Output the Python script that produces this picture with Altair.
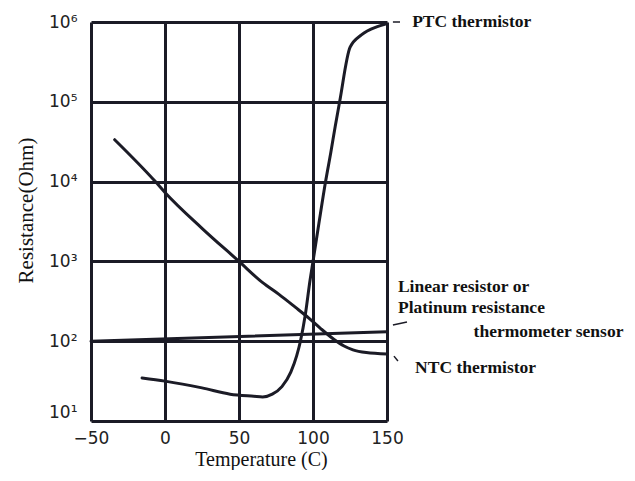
import altair as alt
import pandas as pd

# ---- data ----
ptc_t = [-15.5, 0, 25, 44, 60, 66, 72.5, 79, 85, 89, 91.5, 94.8, 98, 100, 104, 108.5, 112, 115, 118, 125, 132.7, 143, 149]
ptc_r = [34.6, 31.6, 26, 21.7, 20.4, 20, 21.7, 27, 41, 66, 100, 214, 580, 1000, 3000, 10000, 23000, 49000, 100000, 480000, 690000, 870000, 940000]

ntc_t = [-34, -6.5, 0, 25, 50, 66, 77, 88, 97, 105, 114, 121, 127, 136, 150]
ntc_r = [33500, 10000, 7300, 2600, 1000, 541, 386, 267, 196, 145, 106, 87, 78, 72, 69]

lin_t = [-50, 150]
lin_r = [100, 131]

series_names = ["PTC thermistor", "NTC thermistor", "Linear resistor"]

x_ticks = [-50, 0, 50, 100, 150]
y_ticks = [10, 100, 1000, 10000, 100000, 1000000]
y_tick_labels = ["10¹", "10²", "10³", "10⁴", "10⁵", "10⁶"]

label_text = ["PTC thermistor", "Linear resistor or", "Platinum resistance",
              "thermometer sensor", "NTC thermistor"]
label_t = [167, 157.4, 157.4, 208.5, 169]
label_r = [1000000, 477, 261, 130, 46]

leader_t1 = [154, 154, 154.7]
leader_t2 = [158.8, 163.5, 157.4]
leader_r1 = [1000000, 160, 65]
leader_r2 = [1000000, 174, 56.5]

# ---- tables ----
rows = []
for name, ts, rs in zip(series_names, [ptc_t, ntc_t, lin_t], [ptc_r, ntc_r, lin_r]):
    for i, (t, r) in enumerate(zip(ts, rs)):
        rows.append({"series": name, "T": t, "R": r, "order": i})
curves = pd.DataFrame(rows)

labels = pd.DataFrame({"text": label_text, "T": label_t, "R": label_r})
leaders = pd.DataFrame({"T": leader_t1, "T2": leader_t2, "R": leader_r1, "R2": leader_r2})

INK = "#1b1b26"

label_map = "{" + ", ".join(f"'{v}': '{l}'" for v, l in zip(y_ticks, y_tick_labels)) + "}"

x_scale = alt.Scale(domain=[-50, 150], nice=False, zero=False)
y_scale = alt.Scale(type="log", domain=[10, 1000000], nice=False)

x_axis = alt.Axis(
    values=x_ticks, title="Temperature (C)", ticks=False, domain=False,
    grid=True, gridColor=INK, gridWidth=3, gridOpacity=1,
    labelFont="DejaVu Sans", labelFontSize=17, labelColor="#222",
    labelPadding=9, labelFlush=False,
    titleFont="Liberation Serif", titleFontSize=20, titleFontWeight="normal",
    titleColor="#111", titlePadding=3, titleX=170,
)
y_axis = alt.Axis(
    values=y_ticks, title="Resistance(Ohm)", ticks=False, domain=False,
    grid=True, gridColor=INK, gridWidth=3, gridOpacity=1,
    labelExpr=f"{label_map}[datum.value]",
    labelFont="DejaVu Sans", labelFontSize=17, labelColor="#222",
    labelPadding=14,
    labelBaseline={"condition": {"test": "datum.value <= 10", "value": "bottom"}, "value": "middle"},
    titleFont="Liberation Serif", titleFontSize=21, titleFontWeight="normal",
    titleColor="#111", titlePadding=12, titleY=188,
)

lines = alt.Chart(curves).mark_line(color=INK, strokeCap="round", strokeJoin="round",
                                    interpolate="monotone").encode(
    x=alt.X("T:Q", scale=x_scale, axis=x_axis),
    y=alt.Y("R:Q", scale=y_scale, axis=y_axis),
    detail="series:N",
    order="order:Q",
    strokeWidth=alt.StrokeWidth("series:N", scale=alt.Scale(domain=series_names, range=[3, 3, 2.2]),
                                legend=None),
)

lead = alt.Chart(leaders).mark_rule(color=INK, strokeWidth=1.5).encode(
    x=alt.X("T:Q", scale=x_scale, axis=x_axis),
    x2="T2:Q",
    y=alt.Y("R:Q", scale=y_scale, axis=y_axis),
    y2="R2:Q",
)

texts = alt.Chart(labels).mark_text(
    align="left", baseline="middle", font="Liberation Serif", fontWeight="bold",
    fontSize=17.5, color="#111",
).encode(
    x=alt.X("T:Q", scale=x_scale, axis=x_axis),
    y=alt.Y("R:Q", scale=y_scale, axis=y_axis),
    text="text:N",
)

chart = alt.layer(lines, lead, texts).properties(
    width=296, height=399,
    padding={"left": 83, "top": 14, "right": 240, "bottom": 49},
    autosize=alt.AutoSizeParams(type="none"),
).configure_view(stroke=INK, strokeWidth=3).configure(background="white")

chart.save("out.html", embed_options={"renderer": "svg", "actions": False})
